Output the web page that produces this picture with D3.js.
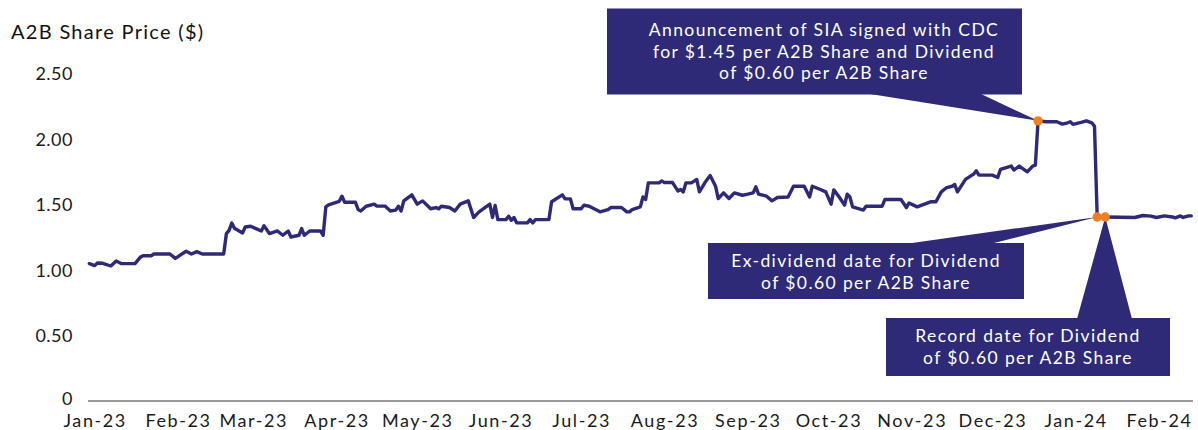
<!DOCTYPE html>
<meta charset="utf-8">
<style>
body { margin: 0; background: #fff; }
svg { display: block; font-family: Lato, sans-serif; }
.axis text { fill: #1a1a1a; }
</style>
<svg width="1198" height="430"></svg>
<script src="https://cdn.jsdelivr.net/npm/d3@7/dist/d3.min.js"></script>
<script>
// daily close
var priceDates = [
  "2022-12-30","2023-01-01","2023-01-02","2023-01-04","2023-01-07","2023-01-09","2023-01-11","2023-01-16",
  "2023-01-18","2023-01-19","2023-01-22","2023-01-23","2023-01-29","2023-01-31","2023-02-04","2023-02-06",
  "2023-02-08","2023-02-10","2023-02-18","2023-02-19","2023-02-20","2023-02-21","2023-02-22","2023-02-25",
  "2023-02-26","2023-02-28","2023-03-02","2023-03-04","2023-03-05","2023-03-07","2023-03-10","2023-03-12",
  "2023-03-14","2023-03-15","2023-03-18","2023-03-19","2023-03-20","2023-03-22","2023-03-26","2023-03-27",
  "2023-03-28","2023-03-29","2023-04-02","2023-04-03","2023-04-04","2023-04-08","2023-04-09","2023-04-10",
  "2023-04-12","2023-04-15","2023-04-16","2023-04-19","2023-04-21","2023-04-23","2023-04-24","2023-04-25",
  "2023-04-26","2023-04-29","2023-05-01","2023-05-03","2023-05-06","2023-05-08","2023-05-09","2023-05-10",
  "2023-05-13","2023-05-15","2023-05-17","2023-05-20","2023-05-22","2023-05-24","2023-05-28","2023-05-29",
  "2023-05-30","2023-05-31","2023-06-03","2023-06-04","2023-06-05","2023-06-06","2023-06-07","2023-06-11",
  "2023-06-12","2023-06-13","2023-06-14","2023-06-19","2023-06-20","2023-06-24","2023-06-25","2023-06-27",
  "2023-06-28","2023-07-01","2023-07-02","2023-07-04","2023-07-08","2023-07-11","2023-07-12","2023-07-16",
  "2023-07-18","2023-07-19","2023-07-20","2023-07-23","2023-07-24","2023-07-25","2023-07-26","2023-07-30",
  "2023-07-31","2023-08-01","2023-08-04","2023-08-06","2023-08-07","2023-08-08","2023-08-09","2023-08-11",
  "2023-08-13","2023-08-14","2023-08-16","2023-08-18","2023-08-20","2023-08-21","2023-08-23","2023-08-25",
  "2023-08-27","2023-08-30","2023-09-01","2023-09-03","2023-09-04","2023-09-05","2023-09-08","2023-09-10",
  "2023-09-12","2023-09-16","2023-09-18","2023-09-22","2023-09-24","2023-09-25","2023-09-28","2023-09-30",
  "2023-10-02","2023-10-03","2023-10-05","2023-10-07","2023-10-08","2023-10-09","2023-10-10","2023-10-14",
  "2023-10-15","2023-10-21","2023-10-22","2023-10-28","2023-10-30","2023-10-31","2023-11-03","2023-11-08",
  "2023-11-10","2023-11-12","2023-11-14","2023-11-16","2023-11-17","2023-11-18","2023-11-21","2023-11-24",
  "2023-11-25","2023-11-26","2023-12-01","2023-12-03","2023-12-04","2023-12-08","2023-12-09","2023-12-11",
  "2023-12-14","2023-12-16","2023-12-17","2023-12-18","2023-12-21","2023-12-25","2023-12-27","2023-12-29",
  "2023-12-30","2023-12-31","2024-01-03","2024-01-05","2024-01-07","2024-01-08","2024-01-09","2024-01-12",
  "2024-01-23","2024-01-26","2024-01-29","2024-01-31","2024-02-03","2024-02-06","2024-02-07","2024-02-09",
  "2024-02-10","2024-02-12","2024-02-13"
]
var priceValues = [
  1.05,1.035,1.055,1.053,1.032,1.07,1.05,1.05,
  1.10,1.11,1.11,1.124,1.124,1.09,1.145,1.124,
  1.142,1.124,1.124,1.28,1.305,1.36,1.32,1.285,
  1.33,1.336,1.318,1.30,1.34,1.28,1.30,1.267,
  1.30,1.254,1.267,1.318,1.267,1.30,1.30,1.267,
  1.484,1.50,1.527,1.566,1.52,1.52,1.464,1.453,
  1.489,1.505,1.49,1.49,1.453,1.459,1.489,1.453,
  1.53,1.576,1.505,1.53,1.47,1.479,1.469,1.489,
  1.479,1.453,1.505,1.53,1.403,1.446,1.505,1.403,
  1.495,1.387,1.387,1.413,1.382,1.403,1.362,1.362,
  1.387,1.362,1.387,1.387,1.523,1.576,1.545,1.545,
  1.47,1.47,1.497,1.489,1.446,1.464,1.479,1.479,
  1.446,1.446,1.464,1.484,1.56,1.54,1.668,1.668,
  1.683,1.67,1.67,1.606,1.617,1.599,1.668,1.668,
  1.694,1.599,1.668,1.724,1.642,1.548,1.591,1.548,
  1.591,1.573,1.581,1.591,1.637,1.581,1.566,1.53,
  1.556,1.56,1.642,1.642,1.56,1.642,1.617,1.599,
  1.505,1.614,1.56,1.497,1.581,1.56,1.484,1.46,
  1.489,1.489,1.54,1.54,1.479,1.514,1.484,1.523,
  1.523,1.599,1.632,1.642,1.655,1.599,1.694,1.734,
  1.76,1.727,1.727,1.709,1.77,1.796,1.766,1.796,
  1.752,1.796,1.803,2.142,2.135,2.135,2.117,2.127,
  2.135,2.115,2.13,2.142,2.127,2.10,1.407,1.407,
  1.403,1.418,1.413,1.403,1.415,1.407,1.40,1.415,
  1.403,1.415,1.415
]
var yTicks = [0, 0.5, 1, 1.5, 2, 2.5]
var monthTicks = ["2023-01-01","2023-02-01","2023-03-01","2023-04-01","2023-05-01","2023-06-01","2023-07-01",
  "2023-08-01","2023-09-01","2023-10-01","2023-11-01","2023-12-01","2024-01-01","2024-02-01"]
var eventDates = ["2023-12-18", "2024-01-09", "2024-01-12"]
var eventText = [
  ["Announcement of SIA signed with CDC", "for $1.45 per A2B Share and Dividend", "of $0.60 per A2B Share"],
  ["Ex-dividend date for Dividend", "of $0.60 per A2B Share"],
  ["Record date for Dividend", "of $0.60 per A2B Share"]
]

var navy = "#2e2a78", orange = "#f07f23"
var parse = d3.utcParse("%Y-%m-%d")
var series = priceDates.map(function(d, i){ return {date: parse(d), value: priceValues[i]} })

var svg = d3.select("svg")

var x = d3.scaleUtc()
  .domain([parse("2023-01-01"), parse("2024-02-01")])
  .range([94.7, 1159])
var y = d3.scaleLinear().domain([0, 2.5]).range([401, 74])

// title
svg.append("text")
  .attr("x", 11).attr("y", 39)
  .attr("font-size", 20)
  .attr("letter-spacing", 1.3)
  .attr("fill", "#111")
  .text("A2B Share Price ($)")

// y labels
svg.append("g").attr("class", "axis")
  .selectAll("text")
  .data(yTicks)
  .enter().append("text")
    .attr("x", 73)
    .attr("y", function(d){ return d === 0 ? y(d) - 2 : y(d) })
    .attr("dy", "0.36em")
    .attr("text-anchor", "end")
    .attr("font-size", 18)
    .attr("letter-spacing", 0.5)
    .text(function(d){ return d === 0 ? "0" : d3.format(".2f")(d) })

// x axis
svg.append("line")
  .attr("x1", 88).attr("x2", 1193)
  .attr("y1", 401).attr("y2", 401)
  .attr("stroke", "#7a7a7a").attr("stroke-width", 1.5)

var xAxis = svg.append("g").attr("class", "axis")
  .attr("transform", "translate(0,401)")
  .call(d3.axisBottom(x)
    .tickValues(monthTicks.map(parse))
    .tickFormat(d3.utcFormat("%b-%y"))
    .tickSize(0)
    .tickPadding(13))
xAxis.select(".domain").remove()
xAxis.selectAll("text")
  .attr("font-family", "Lato, sans-serif")
  .attr("font-size", 18)
  .attr("letter-spacing", 1.6)

// price line
var line = d3.line()
  .x(function(d){ return x(d.date) })
  .y(function(d){ return y(d.value) })

svg.append("path")
  .datum(series)
  .attr("d", line)
  .attr("fill", "none")
  .attr("stroke", navy)
  .attr("stroke-width", 3.4)
  .attr("stroke-linejoin", "round")
  .attr("stroke-linecap", "round")

// callouts
function valueAt(ds){
  var t = parse(ds)
  for(var i = 0; i < series.length; i++)
    if(+series[i].date === +t) return series[i].value
}
var tips = eventDates.map(function(ds){ return [x(parse(ds)), y(valueAt(ds))] })

var boxes = [
  {x: 607, y: 8.5, w: 415, h: 86, tx: 824, lines: [36, 57.5, 79], base: [867, 980], edge: "bottom"},
  {x: 708, y: 243, w: 316, h: 56, tx: 866, lines: [266.5, 288.5], base: [905, 990], edge: "top"},
  {x: 886, y: 318, w: 284, h: 58, tx: 1028, lines: [341.5, 363.5], base: [1077, 1132], edge: "top"}
]

boxes.forEach(function(b, i){
  var g = svg.append("g")
  var ey = b.edge === "bottom" ? b.y + b.h - 1 : b.y + 1
  g.append("path")
    .attr("d", "M" + b.base[0] + "," + ey + "L" + tips[i][0] + "," + tips[i][1] + "L" + b.base[1] + "," + ey + "Z")
    .attr("fill", navy)
  g.append("rect")
    .attr("x", b.x).attr("y", b.y)
    .attr("width", b.w).attr("height", b.h)
    .attr("fill", navy)
  g.selectAll("text")
    .data(eventText[i])
    .enter().append("text")
      .attr("x", b.tx)
      .attr("y", function(d, j){ return b.lines[j] })
      .attr("text-anchor", "middle")
      .attr("font-size", 17.5)
      .attr("letter-spacing", 1.4)
      .attr("fill", "#fff")
      .text(function(d){ return d })
})

svg.append("g")
  .selectAll("circle")
  .data(tips)
  .enter().append("circle")
    .attr("cx", function(d){ return d[0] })
    .attr("cy", function(d){ return d[1] })
    .attr("r", 4.7)
    .attr("fill", orange)
</script>
